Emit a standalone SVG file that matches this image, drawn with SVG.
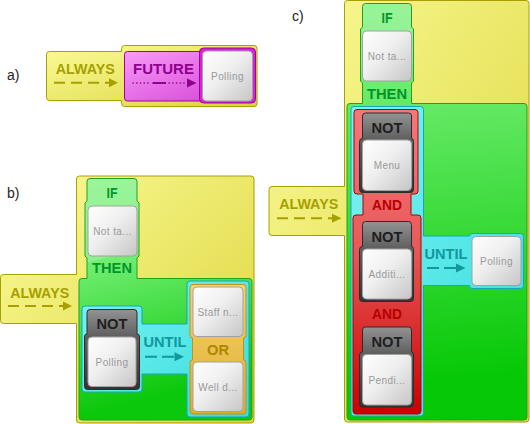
<svg xmlns="http://www.w3.org/2000/svg" width="530" height="424" viewBox="0 0 530 424">
<defs>
<linearGradient id="gYel" x1="0" y1="0" x2="1" y2="1"><stop offset="0" stop-color="#fbfb9a"/><stop offset="1" stop-color="#dcd438"/></linearGradient>
<linearGradient id="gMag" x1="0" y1="0" x2="1" y2="1"><stop offset="0" stop-color="#f79cf7"/><stop offset="1" stop-color="#d43cd4"/></linearGradient>
<linearGradient id="gCy" x1="0" y1="0" x2="1" y2="1"><stop offset="0" stop-color="#7cf3f3"/><stop offset="1" stop-color="#36dcdc"/></linearGradient>
<linearGradient id="gOr" x1="0" y1="0" x2="0" y2="1"><stop offset="0" stop-color="#f3d474"/><stop offset="1" stop-color="#e0ac2c"/></linearGradient>
<linearGradient id="gCard" x1="0" y1="0" x2="1" y2="1"><stop offset="0" stop-color="#ffffff"/><stop offset="0.45" stop-color="#efefef"/><stop offset="1" stop-color="#c6c6c6"/></linearGradient>
<linearGradient id="gNot" x1="0" y1="0" x2="0" y2="1"><stop offset="0" stop-color="#939393"/><stop offset="0.33" stop-color="#606060"/><stop offset="1" stop-color="#343434"/></linearGradient>
<linearGradient id="gGrB" gradientUnits="userSpaceOnUse" x1="0" y1="178" x2="60" y2="420"><stop offset="0" stop-color="#a0f6a0"/><stop offset="0.41" stop-color="#8cf08c"/><stop offset="0.415" stop-color="#72ee72"/><stop offset="1" stop-color="#0cc80c"/></linearGradient>
<linearGradient id="gGrC" gradientUnits="userSpaceOnUse" x1="0" y1="3" x2="40" y2="420"><stop offset="0" stop-color="#a0f6a0"/><stop offset="0.238" stop-color="#8cf08c"/><stop offset="0.243" stop-color="#72ee72"/><stop offset="1" stop-color="#06c806"/></linearGradient>
<linearGradient id="gRed" gradientUnits="userSpaceOnUse" x1="0" y1="109" x2="0" y2="414"><stop offset="0" stop-color="#f47878"/><stop offset="0.45" stop-color="#e85a5a"/><stop offset="1" stop-color="#cc0000"/></linearGradient>
<style>
.yel{fill:url(#gYel);stroke:#a8a000;stroke-width:1}
.mag{fill:url(#gMag);stroke:#a000a0;stroke-width:1}
.cy{fill:url(#gCy);stroke:#16a6b6;stroke-width:1}
.or{fill:url(#gOr);stroke:#c09020;stroke-width:1}
.red{fill:url(#gRed);stroke:#b00000;stroke-width:1}
.not{fill:url(#gNot);stroke:#2c2c2c;stroke-width:1}
.card{fill:url(#gCard);stroke:#a2a2a2;stroke-width:1}
.lbl{font-family:"Liberation Sans",Arial,sans-serif;font-weight:bold;font-size:14px;text-anchor:middle}
.ct{font-family:"Liberation Sans",Arial,sans-serif;font-size:10px;fill:#9a9a9a;text-anchor:middle;letter-spacing:0.4px}
.tag{font-family:"Liberation Sans",Arial,sans-serif;font-size:14px;fill:#222}
.tY{fill:#a6a000}.tM{fill:#8e008e}.tG{fill:#00962a}.tN{fill:#1e1e1e}.tC{fill:#12979f}.tO{fill:#b08600}.tR{fill:#b80000}
.dY{stroke:#a6a000;stroke-width:2;fill:none;stroke-dasharray:11,6}
.dC{stroke:#12979f;stroke-width:2;fill:none;stroke-dasharray:12,5}
</style>
</defs>

<text class="tag" x="7" y="80">a)</text>
<text class="tag" x="7" y="198">b)</text>
<text class="tag" x="292" y="21">c)</text>

<!-- Panel a -->
<g id="a-always">
<path class="yel" d="M49.5,51.5 H121.5 V48.5 Q121.5,45.5 124.5,45.5 H254 Q257,45.5 257,48.5 V103.5 Q257,106.5 254,106.5 H124.5 Q121.5,106.5 121.5,103.5 V100.5 H49.5 Q46.5,100.5 46.5,97.5 V54.5 Q46.5,51.5 49.5,51.5 Z"/>
<text class="lbl tY" x="85.3" y="74" textLength="59" lengthAdjust="spacingAndGlyphs">ALWAYS</text>
</g>
<g id="a-future">
<rect class="mag" x="124.5" y="51.5" width="130" height="49.5" rx="3"/>
<text class="lbl tM" x="163.5" y="74" textLength="61" lengthAdjust="spacingAndGlyphs">FUTURE</text>
</g>
<g id="a-polling">
<rect x="199.5" y="48" width="56" height="55" rx="4" fill="#d424d4" stroke="#a000a0"/>
<rect class="card" x="202.5" y="51" width="50" height="50" rx="4"/>
<text class="ct" x="227.5" y="80">Polling</text>
</g>

<!-- Panel b -->
<g id="b-always">
<path class="yel" d="M3.5,274.5 H76.5 V179 Q76.5,176 79.5,176 H251 Q254,176 254,179 V420 Q254,423 251,423 H79.5 Q76.5,423 76.5,420 V323.5 H3.5 Q0.5,323.5 0.5,320.5 V277.5 Q0.5,274.5 3.5,274.5 Z"/>
<text class="lbl tY" x="39.7" y="298" textLength="59" lengthAdjust="spacingAndGlyphs">ALWAYS</text>
</g>
<g id="b-ifthen">
<path fill="url(#gGrB)" stroke="#22a022" d="M90,178.5 H134 Q137,178.5 137,181.5 V201 L139,203 V256 L137,258 V278.5 H249 Q252,278.5 252,281.5 V417 Q252,420 249,420 H82 Q79,420 79,417 V281.5 Q79,278.5 82,278.5 H87 V258 L85,256 V203 L87,201 V181.5 Q87,178.5 90,178.5 Z"/>
<text class="lbl tG" x="112" y="198" textLength="11" lengthAdjust="spacingAndGlyphs">IF</text>
<text class="lbl tG" x="112" y="273" textLength="40" lengthAdjust="spacingAndGlyphs">THEN</text>
</g>
<g id="b-cond">
<rect class="card" x="88" y="206" width="49" height="50" rx="4"/>
<text class="ct" x="112.5" y="235">Not ta...</text>
</g>
<g id="b-until">
<path class="cy" d="M85,306 H139 Q142,306 142,309 V324 H187 V284 Q187,281 190,281 H246 Q249,281 249,284 V414 Q249,417 246,417 H190 Q187,417 187,414 V374 H142 V389 Q142,392 139,392 H85 Q82,392 82,389 V309 Q82,306 85,306 Z"/>
<text class="lbl tC" x="165" y="347" textLength="43" lengthAdjust="spacingAndGlyphs">UNTIL</text>
</g>
<g id="b-not">
<path class="not" d="M90,309.5 H134 Q137,309.5 137,312.5 V334 Q139.5,334 139.5,337 V386.5 Q139.5,389.5 136.5,389.5 H87.5 Q84.5,389.5 84.5,386.5 V337 Q84.5,334 87,334 V312.5 Q87,309.5 90,309.5 Z"/>
<text class="lbl tN" x="112" y="328.5" textLength="31" lengthAdjust="spacingAndGlyphs">NOT</text>
<rect class="card" x="88" y="337" width="48" height="49.5" rx="4"/>
<text class="ct" x="112" y="366">Polling</text>
</g>
<g id="b-or">
<path class="or" d="M193,284.5 H243 Q246,284.5 246,287.5 V335.5 Q246,338 243.5,338 V360 Q246,360 246,362.5 V411 Q246,414 243,414 H193 Q190,414 190,411 V362.5 Q190,360 192.5,360 V338 Q190,338 190,335.5 V287.5 Q190,284.5 193,284.5 Z"/>
<text class="lbl tO" x="218" y="355" textLength="22" lengthAdjust="spacingAndGlyphs">OR</text>
<rect class="card" x="193" y="287" width="50" height="49.5" rx="4"/>
<text class="ct" x="218" y="316">Staff n...</text>
<rect class="card" x="193" y="362" width="50" height="49.5" rx="4"/>
<text class="ct" x="218" y="391">Well d...</text>
</g>

<!-- Panel c -->
<g id="c-always">
<path class="yel" d="M272,186.5 H344.5 V3.5 Q344.5,0.5 347.5,0.5 H526 Q529,0.5 529,3.5 V419 Q529,422 526,422 H347.5 Q344.5,422 344.5,419 V235.5 H272 Q269,235.5 269,232.5 V189.5 Q269,186.5 272,186.5 Z"/>
<text class="lbl tY" x="308.7" y="209.3" textLength="59" lengthAdjust="spacingAndGlyphs">ALWAYS</text>
</g>
<g id="c-ifthen">
<path fill="url(#gGrC)" stroke="#22a022" d="M365.5,3.5 H408.5 Q411.5,3.5 411.5,6.5 V27 L413.5,29 V81 L411.5,83 V103.5 H524 Q527,103.5 527,106.5 V417 Q527,420 524,420 H350 Q347,420 347,417 V106.5 Q347,103.5 350,103.5 H362.5 V83 L360.5,81 V29 L362.5,27 V6.5 Q362.5,3.5 365.5,3.5 Z"/>
<text class="lbl tG" x="387" y="23.3" textLength="11" lengthAdjust="spacingAndGlyphs">IF</text>
<text class="lbl tG" x="387" y="99" textLength="40" lengthAdjust="spacingAndGlyphs">THEN</text>
</g>
<g id="c-cond">
<rect class="card" x="362.5" y="31" width="49" height="50" rx="4"/>
<text class="ct" x="387" y="60">Not ta...</text>
</g>
<g id="c-until">
<path class="cy" d="M354,106.5 H420.5 Q423.5,106.5 423.5,109.5 V236 H469.5 Q469.5,233.5 472.5,233.5 H520.5 Q523.5,233.5 523.5,236.5 V285.5 Q523.5,288.5 520.5,288.5 H472.5 Q469.5,288.5 469.5,285.5 H423.5 V413 Q423.5,416 420.5,416 H354 Q351,416 351,413 V109.5 Q351,106.5 354,106.5 Z"/>
<text class="lbl tC" x="446" y="259.3" textLength="43" lengthAdjust="spacingAndGlyphs">UNTIL</text>
</g>
<g id="c-and">
<path class="red" d="M357,109.5 H415 Q418,109.5 418,112.5 V191 Q418,194 415,194 H411 V215 H418 Q421,215 421,218 V411 Q421,414 418,414 H356 Q353,414 353,411 V218 Q353,215 356,215 H363 V194 H357 Q354,194 354,191 V112.5 Q354,109.5 357,109.5 Z"/>
<text class="lbl tR" x="387" y="210" textLength="30" lengthAdjust="spacingAndGlyphs">AND</text>
<text class="lbl tR" x="387" y="319.3" textLength="30" lengthAdjust="spacingAndGlyphs">AND</text>
</g>
<g id="c-not1">
<path class="not" d="M365.5,113 H408.5 Q411.5,113 411.5,116 V138.5 Q413.5,138.5 413.5,141.5 V189.5 Q413.5,192.5 410.5,192.5 H362.5 Q359.5,192.5 359.5,189.5 V141.5 Q359.5,138.5 362.5,138.5 V116 Q362.5,113 365.5,113 Z"/>
<text class="lbl tN" x="387" y="132.7" textLength="31" lengthAdjust="spacingAndGlyphs">NOT</text>
<rect class="card" x="362.5" y="140" width="49" height="50.5" rx="4"/>
<text class="ct" x="387" y="168.5">Menu</text>
</g>
<g id="c-not2">
<path class="not" d="M365.5,221.5 H408.5 Q411.5,221.5 411.5,224.5 V246.5 Q413.5,246.5 413.5,249.5 V298.5 Q413.5,301.5 410.5,301.5 H362.5 Q359.5,301.5 359.5,298.5 V249.5 Q359.5,246.5 362.5,246.5 V224.5 Q362.5,221.5 365.5,221.5 Z"/>
<text class="lbl tN" x="387" y="242" textLength="31" lengthAdjust="spacingAndGlyphs">NOT</text>
<rect class="card" x="362.5" y="249" width="49" height="50" rx="4"/>
<text class="ct" x="387" y="277.5">Additi...</text>
</g>
<g id="c-not3">
<path class="not" d="M365.5,327 H408.5 Q411.5,327 411.5,330 V352 Q413.5,352 413.5,355 V404 Q413.5,407 410.5,407 H362.5 Q359.5,407 359.5,404 V355 Q359.5,352 362.5,352 V330 Q362.5,327 365.5,327 Z"/>
<text class="lbl tN" x="387" y="347" textLength="31" lengthAdjust="spacingAndGlyphs">NOT</text>
<rect class="card" x="362.5" y="354.5" width="49" height="50.5" rx="4"/>
<text class="ct" x="387" y="383.5">Pendi...</text>
</g>
<g id="c-polling">
<rect class="card" x="472" y="236.5" width="49" height="49" rx="4"/>
<text class="ct" x="496.5" y="264.5">Polling</text>
</g>

<g id="connectors">
<line class="dY" x1="54" y1="82.7" x2="110" y2="82.7"/>
<polygon fill="#a6a000" points="109,78.2 118,82.7 109,87.2"/>
<line x1="132.5" y1="83" x2="151" y2="83" stroke="#8e008e" stroke-width="1.6" stroke-dasharray="1.3,2.4"/>
<line x1="152.5" y1="83" x2="166" y2="83" stroke="#8e008e" stroke-width="2"/>
<line x1="168.5" y1="83" x2="186" y2="83" stroke="#8e008e" stroke-width="1.6" stroke-dasharray="1.3,2.4"/>
<polygon fill="#8e008e" points="187,78.5 196.5,83 187,87.5"/>
<line class="dY" x1="8" y1="306" x2="64" y2="306"/>
<polygon fill="#a6a000" points="63,301.5 72,306 63,310.5"/>
<line class="dY" x1="277" y1="218.3" x2="333" y2="218.3"/>
<polygon fill="#a6a000" points="332,213.8 341.5,218.3 332,222.8"/>
<line class="dC" x1="145" y1="356.7" x2="175" y2="356.7"/>
<polygon fill="#12979f" points="174.5,352.2 184,356.7 174.5,361.2"/>
<line class="dC" x1="427" y1="268" x2="457" y2="268"/>
<polygon fill="#12979f" points="456,263.5 465.5,268 456,272.5"/>
</g>
</svg>
